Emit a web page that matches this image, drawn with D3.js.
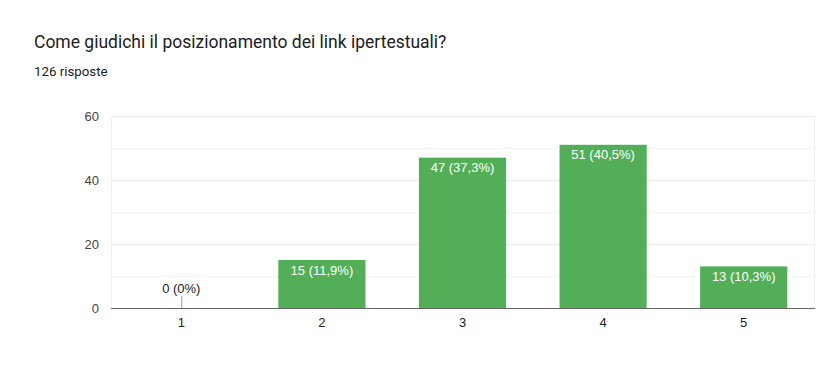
<!DOCTYPE html>
<html>
<head>
<meta charset="utf-8">
<script src="https://cdn.jsdelivr.net/npm/d3@7"></script>
<style>
  html, body { margin: 0; padding: 0; background: #fff; }
  svg { display: block; font-family: Roboto, Arial, sans-serif; }
</style>
</head>
<body>
<svg id="chart" width="817" height="381"></svg>
<script>
// Survey answers: rating 1–5 and number of responses
const categories = ["1", "2", "3", "4", "5"];
const counts = [0, 15, 47, 51, 13];
const valueLabels = ["0 (0%)", "15 (11,9%)", "47 (37,3%)", "51 (40,5%)", "13 (10,3%)"];
const yTicks = [0, 20, 40, 60];
const yMinorTicks = [10, 30, 50];
const title = "Come giudichi il posizionamento dei link ipertestuali?";
const subtitle = "126 risposte";

const svg = d3.select("#chart");
const plotLeft = 111, plotRight = 814, plotTop = 116, plotBottom = 308;
const axisFont = "'Liberation Sans', Arial, sans-serif";

const x = d3.scaleBand().domain(categories).range([plotLeft, plotRight]).paddingInner(0.38).paddingOuter(0.19);
const y = d3.scaleLinear().domain([0, 60]).range([plotBottom, plotTop]);

svg.append("text").attr("x", 34).attr("y", 48)
  .attr("font-size", 17.5).attr("fill", "#202124").text(title);
svg.append("text").attr("x", 34).attr("y", 76)
  .attr("font-size", 13.3).attr("fill", "#202124").text(subtitle);

// Grid lines
svg.append("g").selectAll("line").data(yMinorTicks).join("line")
  .attr("x1", plotLeft).attr("x2", plotRight)
  .attr("y1", d => y(d) + 0.5).attr("y2", d => y(d) + 0.5)
  .attr("stroke", "#f4f4f4");
svg.append("g").selectAll("line").data(yTicks.filter(d => d > 0)).join("line")
  .attr("x1", plotLeft).attr("x2", plotRight)
  .attr("y1", d => y(d) + 0.5).attr("y2", d => y(d) + 0.5)
  .attr("stroke", "#ebebeb");
svg.append("g").selectAll("line").data([plotLeft, plotRight]).join("line")
  .attr("x1", d => d + 0.5).attr("x2", d => d + 0.5)
  .attr("y1", plotTop).attr("y2", plotBottom)
  .attr("stroke", "#f0f0f0");

// Y axis labels
const yAxis = d3.axisLeft(y).tickValues(yTicks).tickSize(0).tickPadding(12);
const gy = svg.append("g").attr("transform", `translate(${plotLeft},0)`).call(yAxis);
gy.select(".domain").remove();
gy.selectAll("text").attr("font-size", 13).attr("fill", "#444").attr("font-family", axisFont);

// Bars
const bw = x.bandwidth();
svg.append("g").selectAll("rect").data(counts).join("rect")
  .attr("x", (d, i) => x(categories[i]))
  .attr("y", d => y(d))
  .attr("width", bw)
  .attr("height", d => plotBottom - y(d))
  .attr("fill", "#53af57");

// Zero-value marker
svg.append("g").selectAll("line").data(counts.map((d, i) => ({d, i})).filter(o => o.d === 0)).join("line")
  .attr("x1", o => x(categories[o.i]) + bw / 2 + 0.5)
  .attr("x2", o => x(categories[o.i]) + bw / 2 + 0.5)
  .attr("y1", o => y(o.d) - 12).attr("y2", o => y(o.d))
  .attr("stroke", "#999");

// Value labels
svg.append("g").selectAll("text").data(counts).join("text")
  .attr("x", (d, i) => x(categories[i]) + bw / 2)
  .attr("y", d => d === 0 ? y(d) - 15 : y(d) + 14.5)
  .attr("text-anchor", "middle")
  .attr("font-size", 13)
  .attr("font-family", axisFont)
  .attr("fill", d => d === 0 ? "#222" : "#fff")
  .text((d, i) => valueLabels[i]);

// Baseline and x axis
svg.append("line").attr("x1", plotLeft).attr("x2", plotRight + 1)
  .attr("y1", plotBottom + 0.5).attr("y2", plotBottom + 0.5)
  .attr("stroke", "#666");
const xAxis = d3.axisBottom(x).tickSize(0).tickPadding(10);
const gx = svg.append("g").attr("transform", `translate(0,${plotBottom})`).call(xAxis);
gx.select(".domain").remove();
gx.selectAll("text").attr("font-size", 13).attr("fill", "#222").attr("font-family", axisFont);
</script>
</body>
</html>
